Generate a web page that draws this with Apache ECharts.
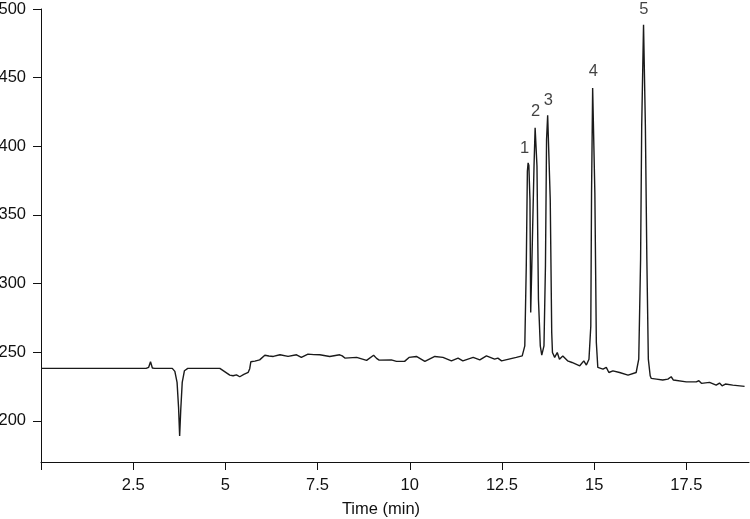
<!DOCTYPE html>
<html>
<head>
<meta charset="utf-8">
<script src="https://cdn.jsdelivr.net/npm/echarts@6/dist/echarts.min.js"></script>
<style>
  html, body { margin: 0; padding: 0; background: #fff; }
  #chart { width: 750px; height: 519px; }
</style>
</head>
<body>
<div id="chart"></div>
<script>
// chromatogram trace
const time = [
  0, 2.85, 2.92, 2.97, 3.02, 3.08, 3.56, 3.63, 3.69, 3.73, 3.76, 3.79, 3.83, 3.89, 3.98,
  4.85, 5.0, 5.12, 5.21, 5.30, 5.39, 5.50, 5.62, 5.66, 5.69, 5.80, 5.93, 6.07, 6.18, 6.30,
  6.48, 6.70, 6.93, 7.06, 7.24, 7.40, 7.56, 7.83, 8.10, 8.17, 8.24, 8.56, 8.83, 9.02, 9.10,
  9.17, 9.50, 9.64, 9.86, 9.98, 10.18, 10.41, 10.68, 10.90, 11.13, 11.31, 11.44, 11.72, 11.90, 12.08,
  12.30, 12.39, 12.49, 12.89, 13.05, 13.12, 13.16, 13.19, 13.21, 13.23, 13.26, 13.28, 13.31, 13.37, 13.40, 13.42, 13.45,
  13.49, 13.54, 13.58, 13.64, 13.68, 13.71, 13.74, 13.76, 13.78, 13.81, 13.85, 13.87, 13.93, 14.00, 14.06, 14.15,
  14.28, 14.40, 14.61, 14.72, 14.79, 14.86, 14.91, 14.93, 14.96, 14.98, 15.00, 15.02, 15.06, 15.10, 15.24, 15.33,
  15.40, 15.51, 15.69, 15.92, 16.14, 16.21, 16.26, 16.29, 16.34, 16.36, 16.39, 16.43, 16.47, 16.52, 16.55, 16.69,
  16.86, 17.0, 17.09, 17.15, 17.5, 17.77, 17.84, 17.91, 18.13, 18.31, 18.40, 18.47, 18.56, 18.76, 19.08
];
const signal = [
  238.2, 238.2, 239, 243, 238.5, 238.2, 238.2, 236, 228, 210, 189, 208, 228, 236.5, 238.2,
  238.2, 235.5, 233.3, 232.8, 233.5, 232.1, 233.8, 235.3, 238, 243, 243.5, 244.4, 247.8, 247.2, 246.9,
  248.1, 246.9, 248.1, 246.2, 248.6, 248.2, 248.1, 246.9, 248.1, 247.3, 245.7, 246.2, 244.0, 247.8, 245.5,
  244.2, 244.4, 243.3, 243.3, 246.2, 246.9, 243.3, 246.9, 246.2, 243.7, 245.7, 243.7, 246.2, 244.4, 247.3,
  244.9, 245.7, 243.7, 246.2, 247.3, 254.6, 312.7, 382, 387.9, 386, 361, 278.9, 312.7, 385.4, 413.5, 413, 385.4,
  288.5, 254.6, 247.8, 254.6, 312.7, 405, 422.5, 423, 421.5, 361, 264.3, 249.8, 246.2, 249.8, 244.9, 247.3,
  243.7, 242.5, 240.1, 243.7, 240.6, 244.9, 269.1, 366, 442.5, 443.8, 442, 366, 257, 238.9, 237.6, 238.9,
  235.2, 236.4, 235.2, 233.3, 235.2, 244.9, 317.6, 414.5, 488.5, 488.5, 414.5, 317.6, 244.9, 232.8, 230.9, 230.4,
  229.7, 230.4, 232.1, 229.7, 228.4, 228.4, 229.2, 227.3, 228.0, 226.0, 227.5, 225.5, 226.8, 226.0, 225.1
];

// peak labels
const peakNames = ['1', '2', '3', '4', '5'];
const peakTimes = [13.22, 13.41, 13.76, 14.98, 16.35];
const peakTops = [387.9, 414.5, 423, 443.8, 489.1];

const xTicks = [0, 2.5, 5, 7.5, 10, 12.5, 15, 17.5];
const xLabels = [2.5, 5, 7.5, 10, 12.5, 15, 17.5];
const yTicks = [200, 250, 300, 350, 400, 450, 500];

const font = 'Liberation Sans, Arial, Helvetica, sans-serif';
const fs = 16.5;
const chart = echarts.init(document.getElementById('chart'));

chart.setOption({
  animation: false,
  grid: { left: 41, right: 1, top: 9, bottom: 57, outerBoundsMode: 'none', containLabel: false },
  xAxis: {
    type: 'value',
    min: 0,
    max: 19.2,
    name: 'Time (min)',
    nameLocation: 'middle',
    nameGap: 39,
    nameTextStyle: { color: '#111', fontSize: fs, fontFamily: font, padding: [0, 28, 0, 0] },
    axisLine: { lineStyle: { color: '#111', width: 1 } },
    axisTick: { show: true, length: 8, customValues: xTicks, lineStyle: { color: '#111' } },
    axisLabel: { customValues: xLabels, color: '#111', fontSize: fs, fontFamily: font, margin: 15 },
    splitLine: { show: false }
  },
  yAxis: {
    type: 'value',
    min: 170,
    max: 500,
    axisLine: { show: true, lineStyle: { color: '#111', width: 1 } },
    axisTick: { show: true, length: 8, customValues: yTicks, lineStyle: { color: '#111' } },
    axisLabel: { customValues: yTicks, color: '#111', fontSize: fs, fontFamily: font, margin: 15 },
    splitLine: { show: false }
  },
  series: [
    {
      type: 'line',
      data: time.map((t, i) => [t, signal[i]]),
      showSymbol: false,
      lineStyle: { color: '#1a1a1a', width: 1.4 },
      silent: true
    },
    {
      type: 'scatter',
      symbolSize: 0,
      data: peakTimes.map((t, i) => ({
        value: [t, peakTops[i]],
        label: { offset: i === 0 ? [-4, 0] : [0, 0] }
      })),
      label: {
        show: true,
        position: 'top',
        distance: 6,
        formatter: p => peakNames[p.dataIndex],
        color: '#111',
        fontSize: fs,
        fontFamily: font
      },
      silent: true
    }
  ]
});
</script>
</body>
</html>
